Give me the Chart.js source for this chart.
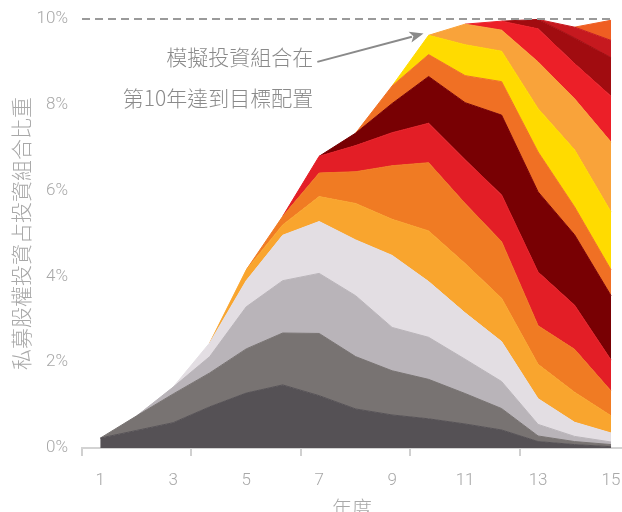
<!DOCTYPE html>
<html>
<head>
<meta charset="utf-8">
<script src="https://cdn.jsdelivr.net/npm/chart.js@4.4.1/dist/chart.umd.min.js"></script>
<style>
  html, body { margin: 0; padding: 0; background: #fff; }
  canvas { display: block; }
</style>
</head>
<body>
<canvas id="navChart" width="622" height="512"></canvas>
<script>
// Years on the x axis
const years = [1, 2, 3, 4, 5, 6, 7, 8, 9, 10, 11, 12, 13, 14, 15];
const xLabelYears = [1, 3, 5, 7, 9, 11, 13, 15];
const xMarkYears = [0.5, 3.5, 6.5, 9.5, 12.5];
const yTicks = [0, 2, 4, 6, 8, 10];
const targetLevel = 10;

// Share of the portfolio held by each vintage (%), one array per vintage, bottom to top
const vintage1 = [0.23, 0.41, 0.59, 0.96, 1.28, 1.47, 1.22, 0.91, 0.77, 0.68, 0.56, 0.42, 0.15, 0.08, 0.03];
const vintage2 = [0, 0.34, 0.67, 0.79, 1.03, 1.21, 1.45, 1.22, 1.03, 0.92, 0.71, 0.50, 0.13, 0.07, 0.05];
const vintage3 = [null, 0, 0.16, 0.38, 0.98, 1.22, 1.40, 1.42, 1.01, 0.98, 0.80, 0.63, 0.27, 0.12, 0.06];
const vintage4 = [null, null, 0, 0.32, 0.61, 1.06, 1.21, 1.30, 1.68, 1.30, 1.08, 0.93, 0.60, 0.33, 0.21];
const vintage5 = [null, null, null, 0, 0.25, 0.24, 0.58, 0.85, 0.84, 1.18, 1.15, 1.01, 0.80, 0.70, 0.40];
const vintage6 = [null, null, null, null, 0, 0.20, 0.55, 0.74, 1.25, 1.59, 1.40, 1.32, 0.90, 1.00, 0.58];
const vintage7 = [null, null, null, null, null, 0, 0.39, 0.61, 0.77, 0.92, 1.02, 1.09, 1.25, 1.03, 0.72];
const vintage8 = [null, null, null, null, null, null, 0, 0.29, 0.68, 1.09, 1.33, 1.86, 1.87, 1.64, 1.50];
const vintage9 = [null, null, null, null, null, null, null, 0, 0.41, 0.51, 0.63, 0.78, 0.93, 0.65, 0.60];
const vintage10 = [null, null, null, null, null, null, null, null, 0, 0.45, 0.72, 0.71, 1.01, 1.33, 1.35];
const vintage11 = [null, null, null, null, null, null, null, null, null, 0, 0.48, 0.49, 1.09, 1.19, 1.63];
const vintage12 = [null, null, null, null, null, null, null, null, null, null, 0, 0.21, 0.77, 0.82, 1.07];
const vintage13 = [null, null, null, null, null, null, null, null, null, null, null, 0, 0.22, 0.60, 0.90];
const vintage14 = [null, null, null, null, null, null, null, null, null, null, null, null, 0, 0.25, 0.40];
const vintage15 = [null, null, null, null, null, null, null, null, null, null, null, null, null, 0, 0.47];

const vintages = [vintage1, vintage2, vintage3, vintage4, vintage5, vintage6, vintage7, vintage8,
  vintage9, vintage10, vintage11, vintage12, vintage13, vintage14, vintage15];
const vintageColors = ['#555155', '#787372', '#b9b4b9', '#e3dee3', '#f9a52e', '#f07b23', '#e31e26',
  '#780003', '#f07024', '#ffdb00', '#f9a33a', '#ec1f28', '#a10c10', '#c6191f', '#ef5e22'];

// Annotation text and arrow (in data units)
const noteLines = ['模擬投資組合在', '第10年達到目標配置'];
const noteRightX = 6.84;
const noteLineY = [9.11, 8.16];
const arrowFrom = { x: 6.95, y: 9.0 };
const arrowTo = { x: 9.86, y: 9.66 };

const axisFont = "'Helvetica Neue', Roboto, 'Noto Sans CJK TC', sans-serif";
const cjkFont = "'Noto Sans CJK TC', 'Helvetica Neue', sans-serif";

// Draws the dashed target line and the note with its arrow
const notePlugin = {
  id: 'notePlugin',
  afterDatasetsDraw(chart) {
    const ctx = chart.ctx;
    const xs = chart.scales.x;
    const ys = chart.scales.y;

    // dashed 10% line
    ctx.save();
    ctx.strokeStyle = '#9a9a9a';
    ctx.lineWidth = 2;
    ctx.setLineDash([8, 5]);
    ctx.beginPath();
    const ty = Math.round(ys.getPixelForValue(targetLevel));
    ctx.moveTo(chart.chartArea.left, ty);
    ctx.lineTo(xs.getPixelForValue(15) + 2, ty);
    ctx.stroke();
    ctx.restore();

    // note text
    ctx.save();
    ctx.font = '300 21px ' + cjkFont;
    ctx.fillStyle = '#8a8a8a';
    ctx.textAlign = 'right';
    ctx.textBaseline = 'middle';
    noteLines.forEach((line, i) => {
      ctx.fillText(line, xs.getPixelForValue(noteRightX), ys.getPixelForValue(noteLineY[i]));
    });

    // arrow
    const x1 = xs.getPixelForValue(arrowFrom.x), y1 = ys.getPixelForValue(arrowFrom.y);
    const x2 = xs.getPixelForValue(arrowTo.x), y2 = ys.getPixelForValue(arrowTo.y);
    const ang = Math.atan2(y2 - y1, x2 - x1);
    const headLen = 15;
    ctx.strokeStyle = '#8a8a8a';
    ctx.fillStyle = '#8a8a8a';
    ctx.lineWidth = 2;
    ctx.beginPath();
    ctx.moveTo(x1, y1);
    ctx.lineTo(x2 - headLen * 0.8 * Math.cos(ang), y2 - headLen * 0.8 * Math.sin(ang));
    ctx.stroke();
    ctx.beginPath();
    ctx.moveTo(x2, y2);
    ctx.lineTo(x2 - headLen * Math.cos(ang - 0.38), y2 - headLen * Math.sin(ang - 0.38));
    ctx.lineTo(x2 - headLen * 0.7 * Math.cos(ang), y2 - headLen * 0.7 * Math.sin(ang));
    ctx.lineTo(x2 - headLen * Math.cos(ang + 0.38), y2 - headLen * Math.sin(ang + 0.38));
    ctx.closePath();
    ctx.fill();
    ctx.restore();
  }
};

const datasets = vintages.map((values, i) => ({
  label: 'Vintage ' + (i + 1),
  data: values,
  backgroundColor: vintageColors[i],
  borderColor: vintageColors[i],
  borderWidth: 1,
  pointRadius: 0,
  tension: 0,
  fill: i === 0 ? 'origin' : '-1'
}));

new Chart(document.getElementById('navChart'), {
  type: 'line',
  data: { labels: years, datasets: datasets },
  options: {
    responsive: false,
    animation: false,
    layout: { padding: { top: 19, left: 4, right: 0, bottom: 0 } },
    plugins: {
      legend: { display: false },
      tooltip: { enabled: false }
    },
    scales: {
      x: {
        type: 'linear',
        min: 0.5,
        max: 15.3,
        afterBuildTicks(scale) {
          const vals = xLabelYears.concat(xMarkYears).sort((a, b) => a - b);
          scale.ticks = vals.map(v => ({ value: v }));
        },
        afterFit(scale) {
          scale.height = 64;
          scale.paddingLeft = 0;
          scale.paddingRight = 0;
        },
        ticks: {
          autoSkip: false,
          maxRotation: 0,
          padding: 15,
          color: '#a8a8a8',
          font: { family: axisFont, size: 17, weight: '300' },
          callback: v => xLabelYears.includes(v) ? String(v) : ''
        },
        grid: {
          drawOnChartArea: false,
          drawTicks: true,
          tickLength: 8,
          lineWidth: 2,
          tickColor: ctx => (ctx.tick && xMarkYears.includes(ctx.tick.value)) ? '#d0d0d0' : 'rgba(0,0,0,0)'
        },
        border: { display: true, color: '#d3d3d3', width: 2 },
        title: {
          display: true,
          text: '年度',
          color: '#a8a8a8',
          font: { family: cjkFont, size: 20, weight: '300', lineHeight: 1 },
          padding: { top: 0, bottom: -6 }
        }
      },
      y: {
        stacked: true,
        min: 0,
        max: 10,
        afterBuildTicks(scale) { scale.ticks = yTicks.map(v => ({ value: v })); },
        afterFit(scale) {
          scale.width = 78;
          scale.paddingTop = 0;
          scale.paddingBottom = 0;
        },
        ticks: {
          autoSkip: false,
          padding: 14,
          color: '#a8a8a8',
          font: { family: axisFont, size: 17, weight: '300' },
          callback: v => v + '%'
        },
        grid: { display: false, drawTicks: false },
        border: { display: false },
        title: {
          display: true,
          text: '私募股權投資占投資組合比重',
          color: '#a8a8a8',
          font: { family: cjkFont, size: 21, weight: '300' },
          padding: { top: 4, bottom: 4 }
        }
      }
    }
  },
  plugins: [notePlugin]
});
</script>
</body>
</html>
